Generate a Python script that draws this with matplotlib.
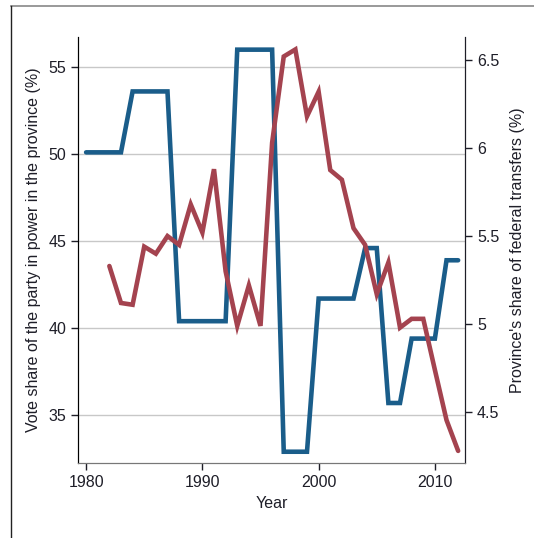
import matplotlib.pyplot as plt
from matplotlib.lines import Line2D

plt.rcParams['font.family'] = ['Liberation Sans', 'DejaVu Sans']

# Data
years = list(range(1980, 2013))
vote_share = [50.1, 50.1, 50.1, 50.1, 53.6, 53.6, 53.6, 53.6, 40.4, 40.4,
              40.4, 40.4, 40.4, 56.0, 56.0, 56.0, 56.0, 32.9, 32.9, 32.9,
              41.7, 41.7, 41.7, 41.7, 44.6, 44.6, 35.7, 35.7, 39.4, 39.4,
              39.4, 43.9, 43.9]

transfer_years = list(range(1982, 2013))
transfer_share = [5.33, 5.12, 5.11, 5.44, 5.40, 5.50, 5.45, 5.68, 5.52, 5.88,
                  5.30, 4.99, 5.22, 4.99, 6.03, 6.52, 6.56, 6.18, 6.32, 5.875,
                  5.82, 5.545, 5.45, 5.17, 5.35, 4.98, 5.03, 5.03, 4.74, 4.455,
                  4.28]

x_ticks = [1980, 1990, 2000, 2010]
left_ticks = [35, 40, 45, 50, 55]
right_ticks = [4.5, 5, 5.5, 6, 6.5]

blue = '#1a5d8a'
red = '#a4434f'
text_col = '#1e1e28'

fig = plt.figure(figsize=(5.34, 5.38), dpi=100)
ax = fig.add_axes([0.146, 0.139, 0.725, 0.792])
ax2 = ax.twinx()

# Gridlines from the left axis
ax.set_axisbelow(True)
ax.grid(axis='y', color='#c8c8c8', linewidth=1)
ax.grid(axis='x', visible=False)

ax.plot(years, vote_share, color=blue, linewidth=3.3, solid_capstyle='round',
        solid_joinstyle='miter', zorder=3)
ax2.plot(transfer_years, transfer_share, color=red, linewidth=3.3,
         solid_capstyle='round', solid_joinstyle='miter', zorder=3)

ax.set_xlim(1979.3, 2012.6)
ax.set_ylim(32.24, 56.72)
ax2.set_ylim(4.21, 6.63)

ax.set_xticks(x_ticks)
ax.set_yticks(left_ticks)
ax2.set_yticks(right_ticks)
ax2.set_yticklabels(['4.5', '5', '5.5', '6', '6.5'])

for a in (ax, ax2):
    a.tick_params(labelsize=11.5, length=5, width=1, colors=text_col,
                  direction='out')

ax.set_xlabel('Year', fontsize=11.5, color=text_col, labelpad=4)
ax.set_ylabel('Vote share of the party in power in the province (%)',
              fontsize=11.5, color=text_col, labelpad=5)
ax2.set_ylabel("Province's share of federal transfers (%)",
               fontsize=11.5, color=text_col, labelpad=8)

ax.spines['top'].set_visible(False)
ax2.spines['top'].set_visible(False)
ax.spines['bottom'].set_color('#777777')
ax2.spines['bottom'].set_color('#777777')
ax.spines['left'].set_color('#111111')
ax2.spines['right'].set_color('#1e1e28')

# Outer frame (partial border seen in the reference)
fig.add_artist(Line2D([11 / 534, 1], [1 - 6 / 538, 1 - 6 / 538],
                      color='#888888', linewidth=1.2))
fig.add_artist(Line2D([11 / 534, 11 / 534], [0, 1 - 6 / 538],
                      color='#222222', linewidth=1))

fig.savefig('out.png', dpi=100)
